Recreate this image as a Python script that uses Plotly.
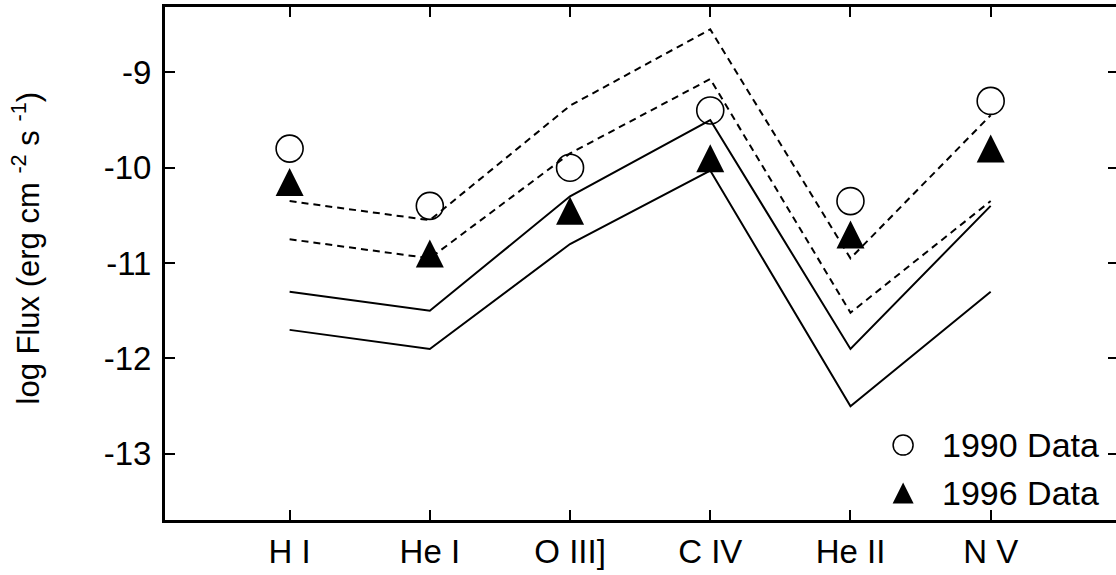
import plotly.graph_objects as go

# emission lines on the x axis
categories = ["H I", "He I", "O III]", "C IV", "He II", "N V"]

# observed fluxes (log erg cm^-2 s^-1)
flux_1990 = [-9.80, -10.40, -10.00, -9.40, -10.35, -9.30]
flux_1996 = [-10.15, -10.90, -10.45, -9.90, -10.70, -9.80]

# model curves
model_dash_hi = [-10.35, -10.55, -9.35, -8.55, -10.95, -9.45]
model_dash_lo = [-10.75, -10.95, -9.85, -9.07, -11.52, -10.35]
model_solid_hi = [-11.30, -11.50, -10.30, -9.50, -11.90, -10.40]
model_solid_lo = [-11.70, -11.90, -10.80, -10.03, -12.50, -11.30]

y_ticks = [-9, -10, -11, -12, -13]
legend_labels = ["1990 Data", "1996 Data"]

FONT = "Liberation Sans, Arial, sans-serif"
FS = 33
x = list(range(len(categories)))


def tri_marker(size):
    # upward triangle, centred on the point, about as tall as it is wide
    return dict(symbol="arrow-down", angle=180, standoff=size / 2, size=size, color="black")


fig = go.Figure()

for ys, dash in [(model_dash_hi, "7px,5px"), (model_dash_lo, "7px,5px"),
                 (model_solid_hi, "solid"), (model_solid_lo, "solid")]:
    fig.add_trace(go.Scatter(x=x, y=ys, mode="lines",
                             line=dict(color="black", width=2, dash=dash),
                             showlegend=False, hoverinfo="skip"))

fig.add_trace(go.Scatter(x=x, y=flux_1990, mode="markers", name=legend_labels[0],
                         marker=dict(symbol="circle-open", size=27, color="black",
                                     line=dict(width=1.6)),
                         showlegend=False))
fig.add_trace(go.Scatter(x=x, y=flux_1996, mode="markers", name=legend_labels[1],
                         marker=tri_marker(28), showlegend=False))

# hand-made legend in the lower right corner (overlay axes in 0..1 units)
LEG_X, LEG_Y, LEG_DY = 0.7745, 0.146, 0.0935
fig.add_trace(go.Scatter(x=[LEG_X], y=[LEG_Y], xaxis="x2", yaxis="y2", mode="markers",
                         marker=dict(symbol="circle-open", size=20, color="black",
                                     line=dict(width=1.5)),
                         showlegend=False, hoverinfo="skip"))
fig.add_trace(go.Scatter(x=[LEG_X], y=[LEG_Y - LEG_DY], xaxis="x2", yaxis="y2", mode="markers",
                         marker=tri_marker(21), showlegend=False, hoverinfo="skip"))
for i, lab in enumerate(legend_labels):
    fig.add_annotation(x=LEG_X + 0.039, y=LEG_Y - i * LEG_DY, xref="paper", yref="paper",
                       text=lab, showarrow=False, xanchor="left", yanchor="middle",
                       font=dict(family=FONT, size=34, color="black"))

# y axis title as annotation so it can sit where the original has it
fig.add_annotation(x=-0.1455, y=0.53, xref="paper", yref="paper",
                   text="log Flux (erg cm <sup>-2</sup> s <sup>-1</sup>)",
                   textangle=-90, showarrow=False, xanchor="center", yanchor="middle",
                   font=dict(family=FONT, size=31, color="black"))

axis_common = dict(showline=True, linewidth=3, linecolor="black", mirror="ticks",
                   ticks="inside", ticklen=10, tickwidth=1.5, tickcolor="black",
                   showgrid=False, zeroline=False,
                   tickfont=dict(family=FONT, size=FS, color="black"))

# the frame's right edge sits just past the window in the original,
# so the figure is a few px wider than the page and gets clipped
fig.update_layout(
    width=1121,
    height=575,
    margin=dict(l=165, r=0, t=7, b=55),
    paper_bgcolor="white",
    plot_bgcolor="white",
    font=dict(family=FONT, size=FS, color="black"),
    xaxis=dict(range=[-0.8887, 5.908], tickvals=x, ticktext=categories, **axis_common),
    yaxis=dict(range=[-13.693, -8.3155], tickvals=y_ticks, ticklabelstandoff=4,
               ticktext=[str(v) for v in y_ticks], **axis_common),
    xaxis2=dict(overlaying="x", anchor="y2", range=[0, 1], visible=False),
    yaxis2=dict(overlaying="y", anchor="x2", range=[0, 1], visible=False),
    showlegend=False,
)

# page body has a default 8px margin; drop it so the figure fills the window
fig.write_html("out.html", config={"displayModeBar": False},
               post_script="document.body.style.margin='0';document.body.style.overflow='hidden';")
